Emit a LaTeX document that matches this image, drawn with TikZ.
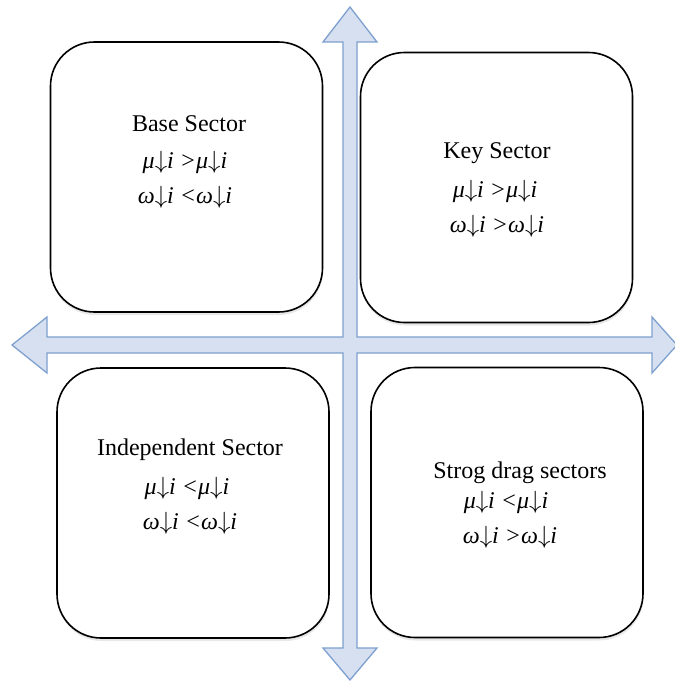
\documentclass[tikz,border=0pt]{standalone}
\usepackage{fontspec}
\setmainfont{Liberation Serif}
\usetikzlibrary{shadows}

\definecolor{axisfill}{RGB}{214,224,240}
\definecolor{axisline}{RGB}{126,160,207}

% one relation line: symbol, comparison
\newcommand{\sectorrel}[2]{#1$\downarrow$i #2#1$\downarrow$i}

\tikzset{
	sector/.style={draw=black, line width=1.6pt, rounded corners=44pt, fill=white,
		minimum width=272pt, minimum height=270pt, inner sep=0pt,
		drop shadow={opacity=0.18, shadow xshift=0.5pt, shadow yshift=-3pt}},
	axis/.style={draw=axisline, fill=axisfill, line width=1.3pt, line join=miter},
	caption/.style={font=\fontsize{24}{28}\selectfont},
	relation/.style={font=\fontsize{24}{28}\selectfont\itshape},
}

\begin{document}
\begin{tikzpicture}[x=1pt,y=-1pt]
			\useasboundingbox (0,0) rectangle (675,681);
			
			% the four sectors
			\node[sector] (base) at (186.5,177) {};
			\node[sector] (key) at (496.5,187.5) {};
			\node[sector] (indep) at (193,503) {};
			\node[sector] (drag) at (507,502.5) {};
			
			% the two axes as one cross
			\draw[axis] (350,7) -- (377,42) -- (357,42) -- (357,337) -- (652,337) -- (652,317)
				-- (677,345) -- (652,373) -- (652,353) -- (357,353) -- (357,648) -- (377,648)
				-- (350,680) -- (323,648) -- (343,648) -- (343,353) -- (47,353) -- (47,373)
				-- (12,345) -- (47,317) -- (47,337) -- (343,337) -- (343,42) -- (323,42) -- cycle;
			
			\node[caption] (baseName) at (189,124) {Base Sector};
			\node[relation] (baseMu) at (185,162) {\sectorrel{μ}{>}};
			\node[relation] (baseOmega) at (185,197) {\sectorrel{ω}{<}};
			
			\node[caption] (keyName) at (497,153) {Key Sector};
			\node[relation] (keyMu) at (495,191) {\sectorrel{μ}{>}};
			\node[relation] (keyOmega) at (497,226) {\sectorrel{ω}{>}};
			
			\node[caption] (indepName) at (190,450) {Independent Sector};
			\node[relation] (indepMu) at (187,488) {\sectorrel{μ}{<}};
			\node[relation] (indepOmega) at (190,523) {\sectorrel{ω}{<}};
			
			\node[caption] (dragName) at (520,473) {Strog drag sectors};
			\node[relation] (dragMu) at (506,502) {\sectorrel{μ}{<}};
			\node[relation] (dragOmega) at (510,537) {\sectorrel{ω}{>}};
		\end{tikzpicture}
\end{document}
